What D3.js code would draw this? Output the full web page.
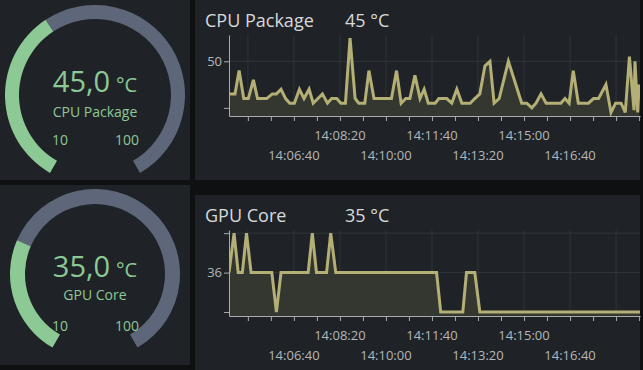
<!DOCTYPE html>
<html>
<head>
<meta charset="utf-8">
<title>Sensor Dashboard</title>
<script src="https://cdn.jsdelivr.net/npm/d3@7/dist/d3.min.js"></script>
<style>
  body { margin: 0; background: #0f1011; }
  svg { display: block; font-family: "Open Sans", sans-serif; }
  .axis path, .axis line { stroke: #a9abad; }
  .axis text { fill: #b4b6b8; font-size: 13px; font-family: "Open Sans", sans-serif; }
  .grid line { stroke: #30353a; stroke-width: 1; }
</style>
</head>
<body>
<svg id="dash" width="643" height="370"></svg>
<script>
// ---- data ----
const sensorNames = ["CPU Package", "GPU Core"];
const currentTemps = [45, 35];
const gaugeMin = [10, 10];
const gaugeMax = [100, 100];

const cpuTimes = ["14:04:21","14:04:32","14:04:41","14:04:51","14:05:01","14:05:12","14:05:21","14:05:41",
  "14:05:53","14:06:02","14:06:12","14:06:22","14:06:31","14:06:41","14:06:52","14:07:02","14:07:13",
  "14:07:22","14:07:42","14:07:53","14:08:02","14:08:13","14:08:22","14:08:32","14:08:42","14:08:53",
  "14:09:01","14:09:14","14:09:23","14:09:34","14:10:12","14:10:23","14:10:33","14:10:43","14:10:52",
  "14:11:03","14:11:14","14:11:23","14:11:32","14:11:47","14:11:55","14:12:12","14:12:23","14:12:34",
  "14:12:45","14:13:03","14:13:13","14:13:24","14:13:35","14:13:46","14:13:55","14:14:06","14:14:26",
  "14:14:55","14:15:06","14:15:17","14:15:26","14:15:37","14:15:48","14:16:20","14:16:29","14:16:38",
  "14:16:47","14:16:58","14:17:20","14:17:31","14:17:42","14:17:58","14:18:09","14:18:19","14:18:31",
  "14:18:40","14:18:49","14:18:59","14:19:01","14:19:07","14:19:10"];
const cpuTemps = [36,36,46,34,34,42,34,34,
  36,36,38,34,32,32,38,34,38,
  32,36,32,34,34,32,32,60,34,
  32,32,46,34,34,46,32,34,34,
  44,34,38,32,32,34,34,32,38,
  32,32,34,36,48,50,32,34,50,
  32,32,30,32,36,32,32,34,32,
  46,32,32,34,34,40,28,32,32,
  28,52,29,50,28,40];

const gpuTimes = ["14:04:19","14:04:30","14:04:39","14:04:48","14:04:57","14:05:07","14:05:52","14:06:02",
  "14:06:12","14:07:11","14:07:20","14:07:29","14:07:51","14:08:00","14:08:11","14:11:50","14:11:59",
  "14:12:47","14:12:55","14:13:13","14:13:24","14:19:18"];
const gpuTemps = [36,37,36,36,37,36,36,35,
  36,36,37,36,36,37,36,36,35,
  35,36,36,35,35];

const timeLabels = ["14:06:40","14:08:20","14:10:00","14:11:40","14:13:20","14:15:00","14:16:40"];
const timeStart = "14:04:19", timeEnd = "14:19:12";
const cpuTicks = [30, 50], cpuTickLabels = ["", "50"];
const gpuTicks = [35, 36, 37], gpuTickLabels = ["", "36", ""];

// ---- layout ----
const svg = d3.select("#dash");
const parse = d3.timeParse("%H:%M:%S");
const green = "#8cc994", slate = "#5e6779", panelBg = "#1f2328";

const panels = [
  {x: 0, y: 0, w: 190, h: 180}, {x: 195, y: 0, w: 445, h: 180},
  {x: 0, y: 185, w: 190, h: 180}, {x: 195, y: 195, w: 445, h: 175}
];
svg.selectAll("rect.panel").data(panels).join("rect")
  .attr("class", "panel")
  .attr("x", d => d.x).attr("y", d => d.y)
  .attr("width", d => d.w).attr("height", d => d.h)
  .attr("fill", panelBg);

// gauges
const gauges = [
  {cx: 95, cy: 95, r: 90, w: 14, valY: -3, labY: 22, mmY: 50},
  {cx: 95, cy: 274, r: 85, w: 15, valY: 3, labY: 26, mmY: 57}
];
const a0 = -150 * Math.PI / 180, a1 = 150 * Math.PI / 180;

gauges.forEach((gd, i) => {
  const g = svg.append("g").attr("transform", `translate(${gd.cx},${gd.cy})`);
  const ang = d3.scaleLinear().domain([gaugeMin[i], gaugeMax[i]]).range([a0, a1]);
  const arc = d3.arc().innerRadius(gd.r - gd.w).outerRadius(gd.r);
  g.append("path").attr("d", arc({startAngle: ang(currentTemps[i]), endAngle: a1})).attr("fill", slate);
  g.append("path").attr("d", arc({startAngle: a0, endAngle: ang(currentTemps[i])})).attr("fill", green);

  const v = g.append("text").attr("y", gd.valY).attr("text-anchor", "middle").attr("fill", green);
  v.append("tspan").style("font-size", "29px").text(d3.format(".1f")(currentTemps[i]).replace(".", ","));
  v.append("tspan").attr("dx", 6).style("font-size", "20px").text("°C");

  g.append("text").attr("y", gd.labY).attr("text-anchor", "middle")
    .attr("fill", green).style("font-size", "14px").text(sensorNames[i]);
  g.append("text").attr("x", -43).attr("y", gd.mmY).attr("fill", green)
    .style("font-size", "14px").text(gaugeMin[i]);
  g.append("text").attr("x", 44).attr("y", gd.mmY).attr("text-anchor", "end").attr("fill", green)
    .style("font-size", "14px").text(gaugeMax[i]);
});

// charts
const charts = [
  {top: 35, bottom: 116, titleY: 27, domain: [26.5, 61.3], times: cpuTimes, temps: cpuTemps,
   ticks: cpuTicks, labels: cpuTickLabels},
  {top: 230, bottom: 316, titleY: 222, domain: [34.9, 37.08], times: gpuTimes, temps: gpuTemps,
   ticks: gpuTicks, labels: gpuTickLabels}
];
const left = 229, right = 640;

charts.forEach((c, i) => {
  const x = d3.scaleTime().domain([parse(timeStart), parse(timeEnd)]).range([left, right]);
  const y = d3.scaleLinear().domain(c.domain).range([c.bottom, c.top]);
  const data = c.times.map((t, k) => ({t: parse(t), v: c.temps[k]}));

  svg.append("text").attr("x", 205).attr("y", c.titleY).attr("fill", "#d8d9da")
    .style("font-size", "18px").text(sensorNames[i]);
  svg.append("text").attr("x", 345).attr("y", c.titleY).attr("fill", "#d8d9da")
    .style("font-size", "18px").text(currentTemps[i] + " °C");

  const secs = d => d.getHours() * 3600 + d.getMinutes() * 60 + d.getSeconds();
  const allSecs = d3.timeSecond.range(x.domain()[0], x.domain()[1]);
  const minor = allSecs.filter(d => secs(d) % 50 === 0);
  const major = allSecs.filter(d => secs(d) % 100 === 0);

  // grid
  const grid = svg.append("g").attr("class", "grid");
  grid.selectAll("line.v").data(major).join("line").attr("class", "v")
    .attr("x1", d => x(d)).attr("x2", d => x(d)).attr("y1", c.top).attr("y2", c.bottom);
  grid.selectAll("line.h").data(c.ticks).join("line").attr("class", "h")
    .attr("x1", left).attr("x2", right).attr("y1", d => y(d)).attr("y2", d => y(d));

  const clipId = "clip" + i;
  svg.append("clipPath").attr("id", clipId).append("rect")
    .attr("x", left).attr("y", c.top - 4).attr("width", right - left).attr("height", c.bottom - c.top + 4);

  const plot = svg.append("g").attr("clip-path", `url(#${clipId})`);
  plot.append("path").datum(data)
    .attr("fill", "#33372f")
    .attr("d", d3.area().x(d => x(d.t)).y0(c.bottom).y1(d => y(d.v)));
  plot.append("path").datum(data)
    .attr("fill", "none").attr("stroke", "#b3af75").attr("stroke-width", 3)
    .attr("stroke-linejoin", "miter")
    .attr("d", d3.line().x(d => x(d.t)).y(d => y(d.v)));

  // axes
  svg.append("g").attr("class", "axis")
    .attr("transform", `translate(0,${c.bottom})`)
    .call(d3.axisBottom(x).tickValues(minor).tickFormat("").tickSize(5).tickSizeOuter(0));
  svg.append("g").attr("class", "axis")
    .attr("transform", `translate(${left},0)`)
    .call(d3.axisLeft(y).tickValues(c.ticks).tickFormat((d, k) => c.labels[k]).tickSize(5).tickSizeOuter(0).tickPadding(2));

  svg.append("g").attr("class", "axis").selectAll("text").data(timeLabels).join("text")
    .attr("x", d => x(parse(d))).attr("text-anchor", "middle")
    .attr("y", (d, k) => c.bottom + (k % 2 === 0 ? 44 : 24))
    .text(d => d);
});
</script>
</body>
</html>
